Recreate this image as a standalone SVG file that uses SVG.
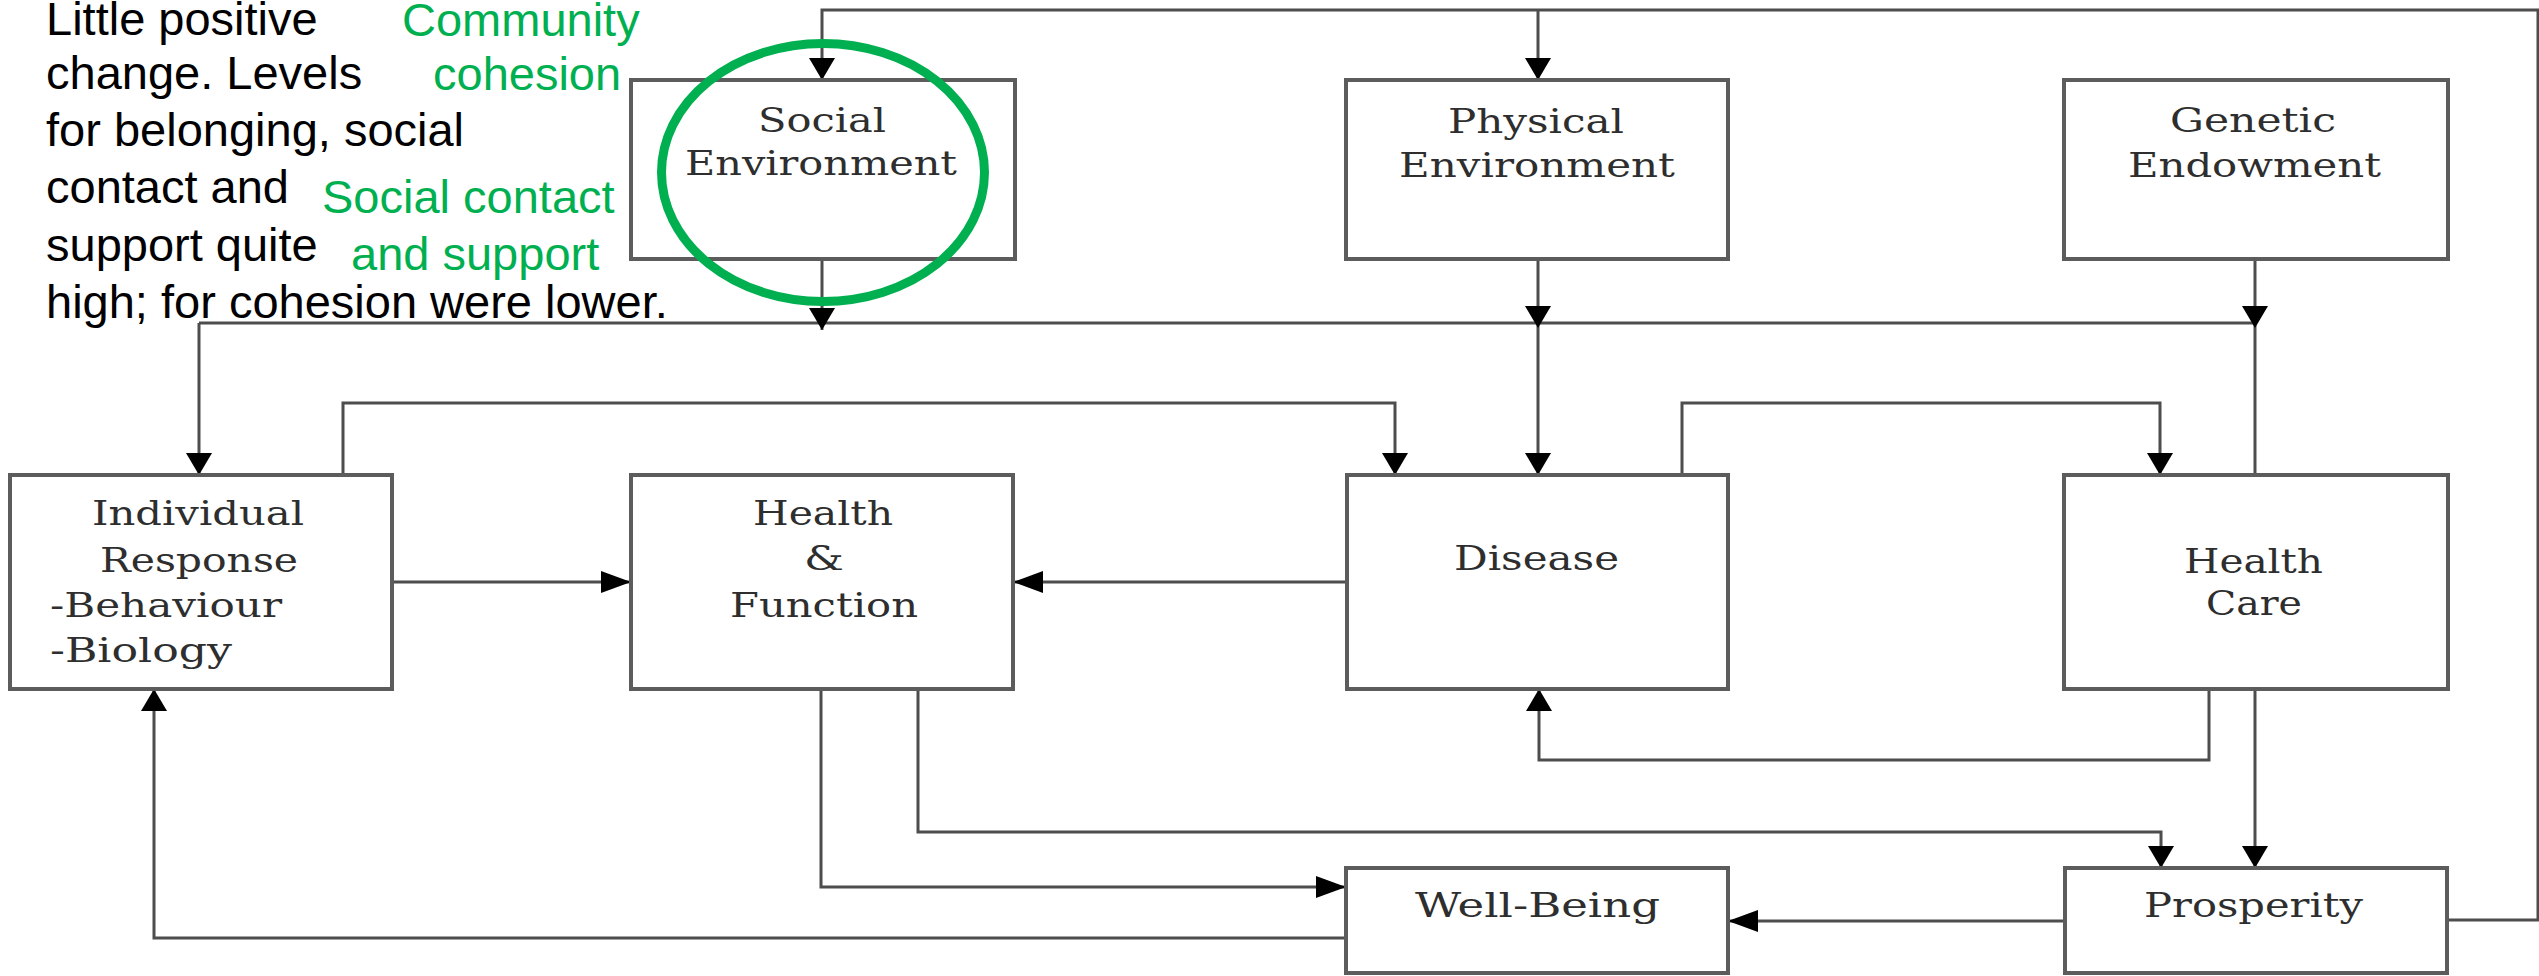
<svg xmlns="http://www.w3.org/2000/svg" width="2539" height="976" viewBox="0 0 2539 976">
  <style>
    .box { fill: #ffffff; stroke: #5c5c5c; stroke-width: 4; }
    .lbl { font-family: "DejaVu Serif", "Liberation Serif", serif; font-size: 34px; fill: #2e2e2e; }
    .note { font-family: "Liberation Sans", Arial, sans-serif; font-size: 47px; fill: #000000; }
    .green { font-family: "Liberation Sans", Arial, sans-serif; font-size: 47px; fill: #00b050; }
    .wire { fill: none; stroke: #4d4d4d; stroke-width: 3; }
    .head { fill: #000000; }
  </style>
  <defs>
    <!-- arrowheads, tip at the origin -->
    <path id="aDown" d="M0,0 L-13,-22 L13,-22 Z"/>
    <path id="aUp" d="M0,0 L-13,22 L13,22 Z"/>
    <path id="aRight" d="M0,0 L-30,-11 L-30,11 Z"/>
    <path id="aLeft" d="M0,0 L30,-11 L30,11 Z"/>
  </defs>

  <rect width="2539" height="976" fill="#ffffff"/>

  <g id="connectors">
    <g class="wire">
      <path d="M2448,920 H2538 V10 H822 V80"/>
      <path d="M1538,10 V80"/>
      <path d="M822,259 V330"/>
      <path d="M1538,259 V475"/>
      <path d="M2255,259 V475"/>
      <path d="M199,323 H2255"/>
      <path d="M199,323 V475"/>
      <path d="M343,475 V403 H1395 V475"/>
      <path d="M1682,475 V403 H2160 V475"/>
      <path d="M392,582 H631"/>
      <path d="M1347,582 H1013"/>
      <path d="M821,689 V887 H1346"/>
      <path d="M918,689 V832 H2161 V868"/>
      <path d="M2209,689 V760 H1539 V689"/>
      <path d="M2255,689 V868"/>
      <path d="M2065,921 H1728"/>
      <path d="M1346,938 H154 V689"/>
    </g>
    <g class="head">
      <use href="#aDown" x="822" y="80"/>
      <use href="#aDown" x="1538" y="80"/>
      <use href="#aDown" x="822" y="330"/>
      <use href="#aDown" x="1538" y="328"/>
      <use href="#aDown" x="2255" y="328"/>
      <use href="#aDown" x="199" y="475"/>
      <use href="#aDown" x="1395" y="475"/>
      <use href="#aDown" x="1538" y="475"/>
      <use href="#aDown" x="2160" y="475"/>
      <use href="#aDown" x="2161" y="868"/>
      <use href="#aDown" x="2255" y="868"/>
      <use href="#aUp" x="1539" y="689"/>
      <use href="#aUp" x="154" y="689"/>
      <use href="#aRight" x="631" y="582"/>
      <use href="#aRight" x="1346" y="887"/>
      <use href="#aLeft" x="1013" y="582"/>
      <use href="#aLeft" x="1728" y="921"/>
    </g>
  </g>

  <g id="social-environment">
    <rect class="box" x="631" y="80" width="384" height="179"/>
    <text class="lbl" x="758" y="132" textLength="128" lengthAdjust="spacingAndGlyphs">Social</text>
    <text class="lbl" x="685" y="175" textLength="272" lengthAdjust="spacingAndGlyphs">Environment</text>
  </g>

  <g id="physical-environment">
    <rect class="box" x="1346" y="80" width="382" height="179"/>
    <text class="lbl" x="1448" y="133" textLength="176" lengthAdjust="spacingAndGlyphs">Physical</text>
    <text class="lbl" x="1399" y="177" textLength="276" lengthAdjust="spacingAndGlyphs">Environment</text>
  </g>

  <g id="genetic-endowment">
    <rect class="box" x="2064" y="80" width="384" height="179"/>
    <text class="lbl" x="2170" y="132" textLength="166" lengthAdjust="spacingAndGlyphs">Genetic</text>
    <text class="lbl" x="2128" y="177" textLength="253" lengthAdjust="spacingAndGlyphs">Endowment</text>
  </g>

  <g id="individual-response">
    <rect class="box" x="10" y="475" width="382" height="214"/>
    <text class="lbl" x="92" y="525" textLength="212" lengthAdjust="spacingAndGlyphs">Individual</text>
    <text class="lbl" x="100" y="572" textLength="198" lengthAdjust="spacingAndGlyphs">Response</text>
    <text class="lbl" x="50" y="617" textLength="232" lengthAdjust="spacingAndGlyphs">-Behaviour</text>
    <text class="lbl" x="50" y="662" textLength="182" lengthAdjust="spacingAndGlyphs">-Biology</text>
  </g>

  <g id="health-function">
    <rect class="box" x="631" y="475" width="382" height="214"/>
    <text class="lbl" x="753" y="525" textLength="140" lengthAdjust="spacingAndGlyphs">Health</text>
    <text class="lbl" x="804" y="570" textLength="40" lengthAdjust="spacingAndGlyphs">&amp;</text>
    <text class="lbl" x="730" y="617" textLength="188" lengthAdjust="spacingAndGlyphs">Function</text>
  </g>

  <g id="disease">
    <rect class="box" x="1347" y="475" width="381" height="214"/>
    <text class="lbl" x="1454" y="570" textLength="165" lengthAdjust="spacingAndGlyphs">Disease</text>
  </g>

  <g id="health-care">
    <rect class="box" x="2064" y="475" width="384" height="214"/>
    <text class="lbl" x="2184" y="573" textLength="139" lengthAdjust="spacingAndGlyphs">Health</text>
    <text class="lbl" x="2206" y="615" textLength="96" lengthAdjust="spacingAndGlyphs">Care</text>
  </g>

  <g id="well-being">
    <rect class="box" x="1346" y="868" width="382" height="105"/>
    <text class="lbl" x="1415" y="917" textLength="245" lengthAdjust="spacingAndGlyphs">Well-Being</text>
  </g>

  <g id="prosperity">
    <rect class="box" x="2065" y="868" width="382" height="105"/>
    <text class="lbl" x="2144" y="917" textLength="219" lengthAdjust="spacingAndGlyphs">Prosperity</text>
  </g>

  <g id="annotation">
    <text class="note" x="46" y="35">Little positive</text>
    <text class="note" x="46" y="89">change. Levels</text>
    <text class="note" x="46" y="146">for belonging, social</text>
    <text class="note" x="46" y="203">contact and</text>
    <text class="note" x="46" y="260.5">support quite</text>
    <text class="note" x="46" y="318">high; for cohesion were lower.</text>
    <text class="green" x="402" y="36">Community</text>
    <text class="green" x="433" y="90">cohesion</text>
    <text class="green" x="322" y="213">Social contact</text>
    <text class="green" x="351" y="270">and support</text>
    <ellipse cx="823" cy="172.5" rx="161.5" ry="129" fill="none" stroke="#00b050" stroke-width="9"/>
  </g>
</svg>
